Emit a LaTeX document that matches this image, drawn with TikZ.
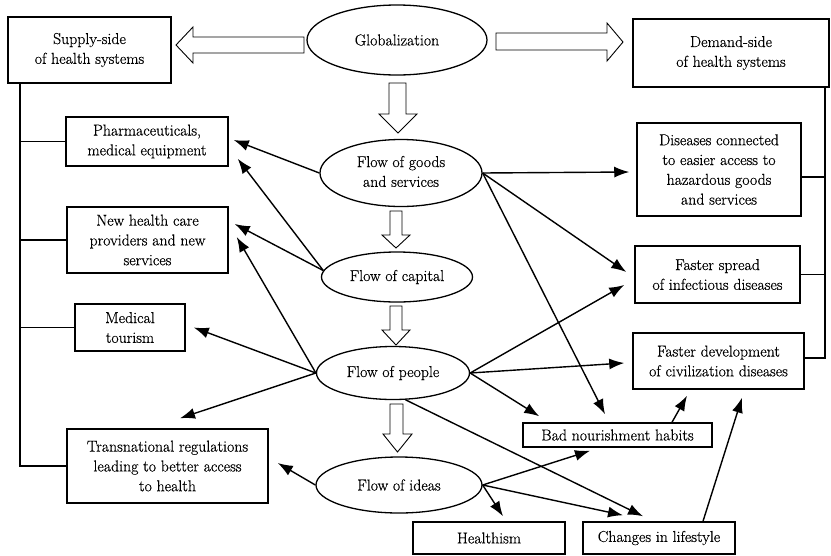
\documentclass[tikz,border=0pt]{standalone}
\usepackage{fontspec}
\setmainfont{Latin Modern Roman}[FakeBold=0.5]
\usetikzlibrary{shapes.geometric,arrows.meta,calc}
\begin{document}
\begin{tikzpicture}[x=1pt,y=-1pt,
 txt/.style={font=\fontsize{15.8}{19.8}\selectfont, align=center},
 box/.style={txt,draw,line width=1.5pt,rectangle,inner sep=0pt},
 oval/.style={txt,draw,line width=1.3pt,ellipse,inner sep=0pt},
 conn/.style={line width=1.4pt,-{Latex[length=15pt,width=11pt]}},
 link/.style={line width=1.5pt},
 hollow/.style={draw,line width=0.9pt,fill=white,line join=miter}]
\useasboundingbox (0,0) rectangle (831,555);

% ellipses
\node[oval,minimum width=180,minimum height=70] (glob) at (397,40) {\makebox[0pt]{Globalization}};
\node[oval,minimum width=162,minimum height=67] (goods) at (401,173) {\makebox[0pt]{\begin{tabular}{@{}c@{}}Flow of goods\\and services\end{tabular}}};
\node[oval,minimum width=151,minimum height=50] (capital) at (397,277) {\makebox[0pt]{Flow of capital}};
\node[oval,minimum width=153,minimum height=53] (people) at (393,373) {\makebox[0pt]{Flow of people}};
\node[oval,minimum width=166,minimum height=56] (ideas) at (399,485) {\makebox[0pt]{Flow of ideas}};

% boxes
\node[box,minimum width=163,minimum height=66] (supply) at (89.5,50) {Supply-side\\of health systems};
\node[box,minimum width=196,minimum height=68] (demand) at (731,53) {Demand-side\\of health systems};
\node[box,minimum width=162,minimum height=49] (pharma) at (147,141.5) {Pharmaceuticals,\\medical equipment};
\node[box,minimum width=161,minimum height=66] (newhc) at (147.5,240) {New health care\\providers and new\\services};
\node[box,minimum width=110,minimum height=47] (medtour) at (130,327.5) {Medical\\tourism};
\node[box,minimum width=201,minimum height=74] (trans) at (167.5,466) {Transnational regulations\\leading to better access\\to health};
\node[box,minimum width=164,minimum height=93] (dis) at (719,169.5) {Diseases connected\\to easier access to\\hazardous goods\\and services};
\node[box,minimum width=165,minimum height=57] (spread) at (717.5,274.5) {Faster spread\\of infectious diseases};
\node[box,minimum width=171,minimum height=56] (devel) at (718.5,361) {Faster development\\of civilization diseases};
\node[box,minimum width=189,minimum height=24] (bad) at (617.5,435) {Bad nourishment habits};
\node[box,minimum width=152,minimum height=32] (healthism) at (489,538) {Healthism};
\node[box,minimum width=152,minimum height=32] (life) at (659,538) {Changes in lifestyle};

% hollow block arrows
\draw[hollow] (304,37) -- (193,37) -- (193,27) -- (176,45) -- (193,63) -- (193,53) -- (304,53) -- cycle;
\draw[hollow] (496,33) -- (607,33) -- (607,23) -- (623,42) -- (607,61) -- (607,50) -- (496,50) -- cycle;
\draw[hollow] (389,83) -- (389,114) -- (379,114) -- (398,133) -- (417,114) -- (406,114) -- (406,83) -- cycle;
\draw[hollow] (390,211) -- (390,235) -- (382,235) -- (396,248) -- (410,235) -- (402,235) -- (402,211) -- cycle;
\draw[hollow] (390,306) -- (390,330) -- (382,330) -- (396,345) -- (410,330) -- (402,330) -- (402,306) -- cycle;
\draw[hollow] (390,404) -- (390,434) -- (383,434) -- (397.5,452) -- (412,434) -- (403,434) -- (403,404) -- cycle;

% side brackets
\coordinate (lx) at (20,0);
\coordinate (rx) at (825,0);
\draw[link] (supply.south -| lx) |- (trans.west);
\draw[link] (pharma.west) -- (pharma.west -| lx);
\draw[link] (newhc.west) -- (newhc.west -| lx);
\draw[link] (medtour.west) -- (medtour.west -| lx);
\draw[link] (demand.south -| rx) |- ([yshift=3pt]devel.east);
\draw[link] ([yshift=-7.5pt]dis.east) -- ([yshift=-7.5pt]dis.east -| rx);
\draw[link] (spread.east) -- (spread.east -| rx);

% arrows
\draw[conn] (goods.west) -- ($(pharma.east)+(5,-1.5)$);
\draw[conn] (capital.175) -- ($(pharma.south east)+(9,-8)$);
\draw[conn] (capital.175) -- ($(newhc.east)+(6,-16)$);
\draw[conn] (people.west) -- ($(newhc.east)+(8,-3)$);
\draw[conn] (people.west) -- ($(medtour.east)+(8,0)$);
\draw[conn] (people.west) -- ($(trans.north)+(12.5,-10)$);
\draw[conn] (ideas.west) -- ($(trans.east)+(9,-3)$);
\draw[conn] (goods.east) -- ($(dis.west)+(-7,2.5)$);
\draw[conn] (goods.east) -- ($(spread.west)+(-8,-2.5)$);
\draw[conn] (goods.east) -- ($(bad.north)+(-12.5,-8)$);
\draw[conn] (people.east) -- ($(spread.west)+(-10,10.5)$);
\draw[conn] (people.east) -- ($(devel.west)+(-8,2)$);
\draw[conn] (people.east) -- ($(bad.north west)+(17,-6)$);
\draw[conn] (people.295) -- ($(life.north)+(-16,-5)$);
\draw[conn] (ideas.east) -- ($(bad.south)+(-27.5,3)$);
\draw[conn] (ideas.east) -- ($(life.north)+(-36,-6)$);
\draw[conn] (ideas.east) -- ($(healthism.north)+(14,-5)$);
\draw[conn] ($(bad.north)+(54.5,0)$) -- ($(devel.south)+(-31.5,6)$);
\draw[conn] ($(life.north)+(44,0)$) -- ($(devel.south)+(23.5,8)$);
\end{tikzpicture}
\end{document}
